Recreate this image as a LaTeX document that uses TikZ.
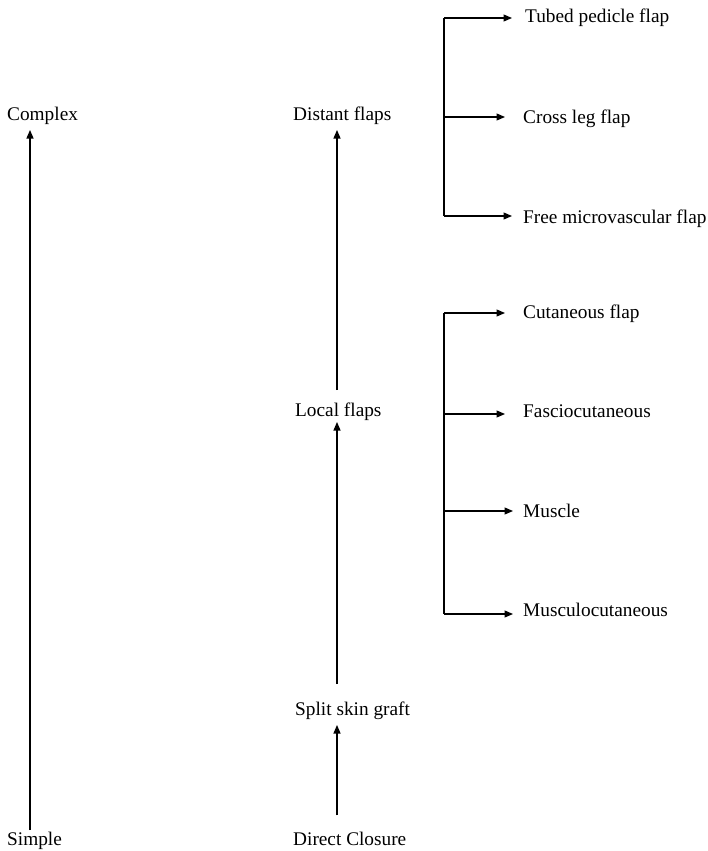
\documentclass[tikz,border=0pt]{standalone}
\usepackage{fontspec}
\setmainfont{Liberation Serif}
\usetikzlibrary{arrows.meta}
\begin{document}
\begin{tikzpicture}[x=1pt,y=-1pt,
  lbl/.style={anchor=base west,inner sep=0pt,font=\fontsize{19.3}{22}\selectfont},
  arr/.style={-{Triangle[length=8.5pt,width=7pt]},line width=1.2pt},
  ln/.style={line width=1.2pt}]
\useasboundingbox (0,0) rectangle (707,851);
% left column
\node[lbl] (complex) at (7,120) {Complex};
\node[lbl] (simple) at (7,845) {Simple};
\coordinate (cl) at (30,0);
\draw[arr] (cl |- 0,830) coordinate (s0) -- (cl |- 0,130);
% middle column
\node[lbl] (distant) at (293,120) {Distant flaps};
\node[lbl] (local) at (295,416) {Local flaps};
\node[lbl] (split) at (295,715) {Split skin graft};
\node[lbl] (direct) at (293,845) {Direct Closure};
\coordinate (cm) at (337,0);
\draw[arr] ([yshift=16pt]direct.north -| cm) -- ([yshift=-10pt]split.base -| cm);
\draw[arr] ([yshift=31pt]split.base -| cm) -- ([yshift=-6pt]local.base -| cm);
\draw[arr] ([yshift=26pt]local.base -| cm) -- ([yshift=-10pt]distant.base -| cm);
% right column, first group
\node[lbl] (tubed) at (525,23) {Tubed pedicle flap};
\node[lbl] (cross) at (523,123) {Cross leg flap};
\node[lbl] (free) at (523,223) {Free microvascular flap};
\coordinate (a1) at (444,18);
\coordinate (a2) at (444,117);
\coordinate (a3) at (444,216);
\draw[ln] (a1) -- (a3);
\draw[arr] (a1) -- ([xshift=-13pt]tubed.west |- a1);
\draw[arr] (a2) -- ([xshift=-18pt]cross.west |- a2);
\draw[arr] (a3) -- ([xshift=-11pt]free.west |- a3);
% right column, second group
\node[lbl] (cut) at (523,318) {Cutaneous flap};
\node[lbl] (fascio) at (523,417) {Fasciocutaneous};
\node[lbl] (muscle) at (523,517) {Muscle};
\node[lbl] (musculo) at (523,616) {Musculocutaneous};
\coordinate (b1) at (444,313);
\coordinate (b2) at (444,414);
\coordinate (b3) at (444,511);
\coordinate (b4) at (444,614);
\draw[ln] (b1) -- (b4);
\draw[arr] (b1) -- ([xshift=-18pt]cut.west |- b1);
\draw[arr] (b2) -- ([xshift=-18pt]fascio.west |- b2);
\draw[arr] (b3) -- ([xshift=-10pt]muscle.west |- b3);
\draw[arr] (b4) -- ([xshift=-10pt]musculo.west |- b4);
\end{tikzpicture}
\end{document}
